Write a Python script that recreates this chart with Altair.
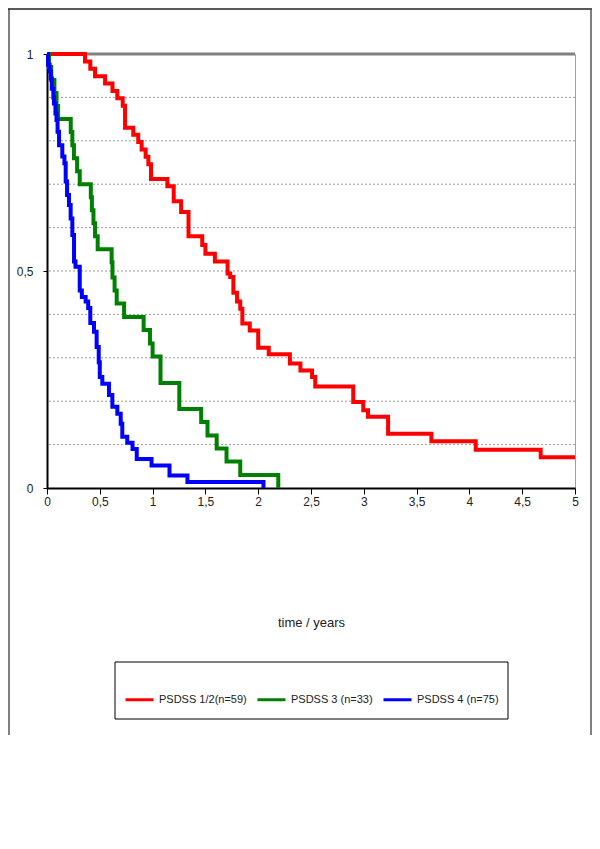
import altair as alt
import pandas as pd

series_names = ["PSDSS 1/2(n=59)", "PSDSS 3 (n=33)", "PSDSS 4 (n=75)"]
series_colors = ["#ff0000", "#008000", "#0000ff"]

red_t = [0, 0.36, 0.41, 0.455, 0.55, 0.62, 0.666, 0.717, 0.739, 0.817, 0.864, 0.896, 0.934, 0.96, 0.985,
         1.14, 1.20, 1.27, 1.34, 1.47, 1.50, 1.59, 1.71, 1.735, 1.765, 1.80, 1.83, 1.85, 1.92, 2.00, 2.10,
         2.30, 2.40, 2.51, 2.54, 2.90, 2.995, 3.04, 3.23, 3.64, 4.06, 4.675, 5.0]
red_s = [1.0, 0.983, 0.966, 0.949, 0.932, 0.915, 0.898, 0.881, 0.830, 0.814, 0.797, 0.780, 0.763, 0.746, 0.712,
         0.695, 0.661, 0.636, 0.580, 0.560, 0.540, 0.522, 0.494, 0.486, 0.450, 0.430, 0.413, 0.379, 0.363, 0.323, 0.308,
         0.287, 0.271, 0.256, 0.234, 0.198, 0.179, 0.164, 0.125, 0.108, 0.088, 0.071, 0.071]

green_t = [0, 0.02, 0.04, 0.07, 0.09, 0.105, 0.225, 0.24, 0.255, 0.285, 0.31, 0.415, 0.425, 0.44, 0.455, 0.48,
           0.612, 0.62, 0.64, 0.66, 0.73, 0.915, 0.975, 1.0, 1.075, 1.253, 1.46, 1.52, 1.607, 1.70, 1.83, 2.19]
green_s = [1.0, 0.97, 0.94, 0.91, 0.88, 0.85, 0.82, 0.79, 0.76, 0.73, 0.70, 0.67, 0.64, 0.61, 0.58, 0.55,
           0.52, 0.485, 0.455, 0.425, 0.394, 0.364, 0.333, 0.303, 0.242, 0.182, 0.152, 0.121, 0.091, 0.061, 0.03, 0.0]

blue_t = [0, 0.010, 0.025, 0.035, 0.045, 0.06, 0.066, 0.08, 0.09, 0.10, 0.114, 0.145, 0.165, 0.177, 0.19, 0.208,
          0.224, 0.24, 0.256, 0.27, 0.31, 0.33, 0.366, 0.39, 0.41, 0.445, 0.47, 0.49, 0.50, 0.524, 0.587, 0.619,
          0.666, 0.698, 0.713, 0.76, 0.81, 0.85, 0.99, 1.16, 1.33, 2.05]
blue_s = [1.0, 0.975, 0.96, 0.944, 0.92, 0.90, 0.886, 0.863, 0.848, 0.821, 0.79, 0.764, 0.748, 0.706, 0.675, 0.652,
          0.621, 0.583, 0.522, 0.51, 0.455, 0.44, 0.43, 0.415, 0.38, 0.36, 0.325, 0.29, 0.256, 0.24, 0.214, 0.187,
          0.171, 0.148, 0.118, 0.104, 0.09, 0.067, 0.052, 0.029, 0.014, 0.0]

x_ticks = [0, 0.5, 1, 1.5, 2, 2.5, 3, 3.5, 4, 4.5, 5]
y_labels = [0, 0.5, 1]
grid_vals = [0.1, 0.2, 0.3, 0.4, 0.5, 0.6, 0.7, 0.8, 0.9]
top_val = [1.0]

rows = []
for name, ts, ss in zip(series_names, [red_t, green_t, blue_t], [red_s, green_s, blue_s]):
    for i, (t, s) in enumerate(zip(ts, ss)):
        rows.append({"group": name, "time": t, "surv": s, "idx": i})
df = pd.DataFrame(rows)

FONT = "Liberation Sans"
label_expr = "replace(toString(datum.value), '.', ',')"

xs = alt.Scale(domain=[0, 5], nice=False, zero=False)
ys = alt.Scale(domain=[0, 1], nice=False)

y_axis = alt.Axis(values=y_labels, labelExpr=label_expr, title=None, grid=False,
                  tickSize=4, labelPadding=10)

grid = alt.Chart(pd.DataFrame({"g": grid_vals})).mark_rule(
    color="#9a9a9a", strokeDash=[2, 2], strokeWidth=1
).encode(y=alt.Y("g:Q", scale=ys, axis=y_axis, title=None))

top = alt.Chart(pd.DataFrame({"g": top_val})).mark_rule(
    color="#808080", strokeWidth=3
).encode(y=alt.Y("g:Q", scale=ys, axis=y_axis, title=None))

lines = alt.Chart(df).mark_line(
    interpolate="step-after", strokeWidth=4, strokeJoin="miter"
).encode(
    x=alt.X("time:Q", scale=xs,
            axis=alt.Axis(values=x_ticks, labelExpr=label_expr, title="time / years",
                          grid=False, tickSize=6, labelPadding=2, labelFlush=False,
                          titleX=264, titleY=134, titleBaseline="middle",
                          titleFont=FONT, titleFontSize=13, titleFontWeight="normal",
                          titleColor="#222222")),
    y=alt.Y("surv:Q", scale=ys, axis=y_axis, title=None),
    color=alt.Color("group:N", scale=alt.Scale(domain=series_names, range=series_colors),
                    legend=alt.Legend(orient="none", legendX=77, legendY=630, direction="horizontal",
                                      title=None, symbolType="stroke", symbolStrokeWidth=3,
                                      symbolSize=784, labelFont=FONT, labelFontSize=11,
                                      labelColor="#222222", columnPadding=4, labelOffset=4,
                                      labelLimit=300, padding=0)),
    order=alt.Order("idx:Q"),
)

legend_box = alt.Chart(pd.DataFrame({"a": [0]})).mark_rect(
    filled=False, stroke="black", strokeWidth=1
).encode(x=alt.value(68), x2=alt.value(461), y=alt.value(608), y2=alt.value(665))

frame_left = alt.Chart(pd.DataFrame({"a": [0]})).mark_rule(color="#555555", strokeWidth=1.5).encode(
    x=alt.value(-38), y=alt.value(-45), y2=alt.value(681))
frame_top = alt.Chart(pd.DataFrame({"a": [0]})).mark_rule(color="#222222", strokeWidth=1.5).encode(
    x=alt.value(-39), x2=alt.value(545), y=alt.value(-45))
frame_right = alt.Chart(pd.DataFrame({"a": [0]})).mark_rule(color="#555555", strokeWidth=1.5).encode(
    x=alt.value(544), y=alt.value(-45), y2=alt.value(681))

chart = alt.layer(grid, top, lines, legend_box, frame_left, frame_top, frame_right).properties(
    width=528, height=434,
    padding={"left": 39, "top": 46, "right": 17, "bottom": 248},
    autosize="none",
).configure_view(
    stroke="#a0a0a0", strokeWidth=1
).configure_axis(
    domainColor="black", domainWidth=2, tickColor="black", tickWidth=1,
    labelFont=FONT, labelFontSize=12, labelColor="#222222"
)

chart.save("out.html", embed_options={"renderer": "svg", "actions": False})
